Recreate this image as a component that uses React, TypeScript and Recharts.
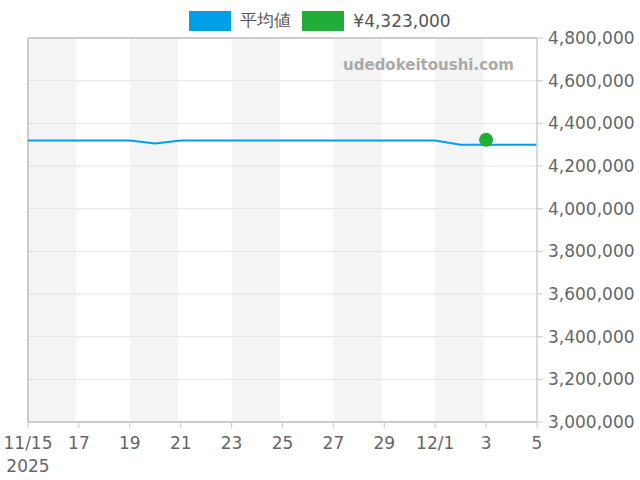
import React from 'react';
import {
  ComposedChart, Line, Scatter, XAxis, YAxis, ReferenceArea, ReferenceLine, Legend
} from 'recharts';

// daily dates shown on the x axis (11/15 .. 12/5)
const dates = [
  '11/15', '11/16', '11/17', '11/18', '11/19', '11/20', '11/21', '11/22', '11/23', '11/24', '11/25',
  '11/26', '11/27', '11/28', '11/29', '11/30', '12/1', '12/2', '12/3', '12/4', '12/5',
];
// 平均値 (average price) per day
const avgValues = [
  4320000, 4320000, 4320000, 4320000, 4320000, 4305000, 4320000, 4320000, 4320000, 4320000, 4320000,
  4320000, 4320000, 4320000, 4320000, 4320000, 4320000, 4300000, 4300000, 4300000, 4300000,
];
// single listing price
const pointDate = '12/3';
const pointValue = 4323000;

const xTicks = [0, 2, 4, 6, 8, 10, 12, 14, 16, 18, 20];
const xTickLabels = ['11/15', '17', '19', '21', '23', '25', '27', '29', '12/1', '3', '5'];
const yTicks = [3000000, 3200000, 3400000, 3600000, 3800000, 4000000, 4200000, 4400000, 4600000, 4800000];
const bandStarts = [0, 4, 8, 12, 16];

const BLUE = '#009fe8';
const GREEN = '#22ad38';
const FONT = '"DejaVu Sans", sans-serif';

const lineData = dates.map((d, i) => ({ x: i, avg: avgValues[i] }));
const pointData = [{ x: dates.indexOf(pointDate), price: pointValue }];

const XTick = ({ x, y, payload }: any) => {
  const idx = xTicks.indexOf(payload.value);
  return (
    <g>
      <text x={x} y={y} dy={19} textAnchor="middle" fill="#666" fontSize={17} fontFamily={FONT}>
        {xTickLabels[idx]}
      </text>
      {idx === 0 && (
        <text x={x} y={y} dy={42} textAnchor="middle" fill="#666" fontSize={17} fontFamily={FONT}>
          2025
        </text>
      )}
    </g>
  );
};

const LegendBox = () => (
  <div style={{ height: 38, display: 'flex', justifyContent: 'center', alignItems: 'flex-start', fontFamily: FONT, fontSize: 17, color: '#555' }}>
    <div style={{ display: 'flex', alignItems: 'center', marginTop: 9 }}>
      <span style={{ width: 42, height: 20, background: BLUE, display: 'inline-block', marginRight: 9 }} />
      <span style={{ marginRight: 11 }}>平均値</span>
      <span style={{ width: 42, height: 20, background: GREEN, display: 'inline-block', marginRight: 9 }} />
      <span>¥4,323,000</span>
    </div>
  </div>
);

export default function App() {
  return (
    <div style={{ position: 'absolute', left: 0, top: 0, width: 640, height: 480, background: '#fff' }}>
      <ComposedChart width={640} height={480} data={lineData} margin={{ top: 0, right: 0, left: 28, bottom: 0 }}>
        <Legend verticalAlign="top" align="center" content={<LegendBox />} wrapperStyle={{ top: 0, left: 0, width: 640 }} />
        {bandStarts.map(s => (
          <ReferenceArea key={s} x1={s} x2={s + 1.9} fill="#f4f4f4" fillOpacity={1} stroke="none" />
        ))}
        {/* horizontal grid drawn over the bands */}
        {yTicks.map(v => (
          <ReferenceLine key={v} y={v} stroke="#e4e4e4" strokeWidth={1} />
        ))}
        <XAxis
          type="number"
          dataKey="x"
          domain={[0, 20]}
          ticks={xTicks}
          interval={0}
          height={58}
          tickSize={6}
          tickMargin={2}
          stroke="#ccc"
          strokeWidth={2}
          tickLine={{ stroke: '#ccc', strokeWidth: 1 }}
          tick={<XTick />}
        />
        <YAxis
          orientation="right"
          type="number"
          domain={[3000000, 4800000]}
          ticks={yTicks}
          width={103}
          tickSize={6}
          tickMargin={5}
          stroke="#ccc"
          strokeWidth={1.5}
          tickLine={{ stroke: '#ccc', strokeWidth: 1 }}
          tick={{ fill: '#666', fontSize: 17, fontFamily: FONT }}
          tickFormatter={(v: number) => v.toLocaleString('en-US')}
        />
        <ReferenceLine x={0} stroke="#ccc" strokeWidth={2} />
        <ReferenceLine y={4800000} stroke="#ccc" strokeWidth={2} />
        <Line type="linear" dataKey="avg" stroke={BLUE} strokeWidth={2} dot={false} isAnimationActive={false} />
        <Scatter
          data={pointData}
          dataKey="price"
          fill={GREEN}
          isAnimationActive={false}
          shape={(p: any) => <circle cx={p.cx} cy={p.cy} r={7} fill={GREEN} />}
        />
      </ComposedChart>
      <div style={{ position: 'absolute', right: 126, top: 55, fontFamily: FONT, fontSize: 15, fontWeight: 'bold', color: '#aaa', lineHeight: '20px' }}>
        udedokeitoushi.com
      </div>
    </div>
  );
}
